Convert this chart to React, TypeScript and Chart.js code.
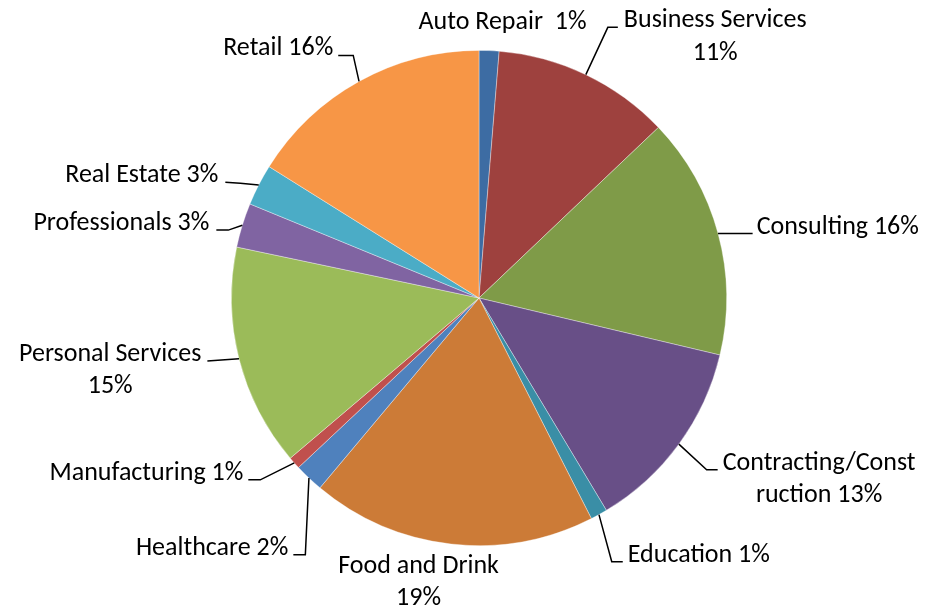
import React, { useEffect, useRef } from "react";
import { Chart, registerables } from "chart.js";

Chart.register(...registerables);

// ---- data ----
const categories = [
  "Auto Repair",
  "Business Services",
  "Consulting",
  "Contracting/Construction",
  "Education",
  "Food and Drink",
  "Healthcare",
  "Manufacturing",
  "Personal Services",
  "Professionals",
  "Real Estate",
  "Retail",
];
const shareValues = [1.3, 11.6, 15.8, 12.7, 1.1, 18.6, 1.9, 0.8, 14.5, 2.9, 2.7, 16.1];
const percentLabels = ["1%", "11%", "16%", "13%", "1%", "19%", "2%", "1%", "15%", "3%", "3%", "16%"];

// ---- styles ----
const sliceColors = [
  "#3D6CA3",
  "#9E413E",
  "#7F9B48",
  "#684F87",
  "#3A8EA6",
  "#CC7B37",
  "#4F81BD",
  "#C0504D",
  "#9BBB59",
  "#8064A2",
  "#4BACC6",
  "#F79646",
];

const FONT_SIZE = 26;
const FONT = `${FONT_SIZE}px Carlito, Lato, "Open Sans", sans-serif`;
const LINE_H = 32.5;

type LabelLayout = {
  sep: string;
  breakAt: number; // chars on first line, -1 = single line
  elbow: [number, number] | null; // relative to slice edge anchor
  end: [number, number] | null;
  text: [number, number];
  align: "left" | "right" | "center";
};

// label layout, offsets relative to the slice's outer mid-point
const labelLayout: LabelLayout[] = [
  { sep: "  ", breakAt: -1, elbow: null, end: null, text: [13.4, -21.2], align: "center" },
  { sep: " ", breakAt: 17, elbow: [22, -47.3], end: [32, -47.3], text: [38, -47.3], align: "left" },
  { sep: " ", breakAt: -1, elbow: null, end: [34.6, 0], text: [38.6, 0.7], align: "left" },
  { sep: " ", breakAt: 17, elbow: [27.8, 25.6], end: [38.8, 25.6], text: [43.8, 25.6], align: "left" },
  { sep: " ", breakAt: -1, elbow: [12.8, 47.1], end: [23.8, 47.1], text: [28.8, 47.1], align: "left" },
  { sep: " ", breakAt: 14, elbow: null, end: null, text: [-32.5, 28.6], align: "center" },
  { sep: " ", breakAt: -1, elbow: [-3.6, 76.8], end: [-15.6, 76.8], text: [-20.6, 76.8], align: "right" },
  { sep: " ", breakAt: -1, elbow: [-34, 16.9], end: [-46, 16.9], text: [-51, 16.9], align: "right" },
  { sep: " ", breakAt: 17, elbow: null, end: [-31.6, 2.1], text: [-37.6, 2.1], align: "right" },
  { sep: " ", breakAt: -1, elbow: [-14, 4.9], end: [-26, 4.9], text: [-33, 4.9], align: "right" },
  { sep: " ", breakAt: -1, elbow: [-18.4, -1.7], end: [-33.4, -2.7], text: [-40.4, -2.7], align: "right" },
  { sep: " ", breakAt: -1, elbow: [-5.8, -26], end: [-20.8, -26], text: [-25.8, -26], align: "right" },
];

const outsideLabels = {
  id: "outsideLabels",
  afterDatasetsDraw(chart: any) {
    const ctx: CanvasRenderingContext2D = chart.ctx;
    const meta = chart.getDatasetMeta(0);
    ctx.save();
    ctx.font = FONT;
    ctx.fillStyle = "#000000";
    ctx.strokeStyle = "#000000";
    ctx.lineWidth = 1.5;
    ctx.lineJoin = "miter";
    ctx.textBaseline = "alphabetic";
    meta.data.forEach((arc: any, i: number) => {
      const { x, y, startAngle, endAngle, outerRadius } = arc.getProps(
        ["x", "y", "startAngle", "endAngle", "outerRadius"],
        true
      );
      const mid = (startAngle + endAngle) / 2;
      const ax = x + Math.cos(mid) * outerRadius;
      const ay = y + Math.sin(mid) * outerRadius;
      const lay = labelLayout[i];
      // leader line
      if (lay.end) {
        ctx.beginPath();
        ctx.moveTo(ax, ay);
        if (lay.elbow) ctx.lineTo(ax + lay.elbow[0], ay + lay.elbow[1]);
        ctx.lineTo(ax + lay.end[0], ay + lay.end[1]);
        ctx.stroke();
      }
      // text
      const full = categories[i] + lay.sep + percentLabels[i];
      const lines =
        lay.breakAt > 0
          ? [full.slice(0, lay.breakAt).trim(), full.slice(lay.breakAt).trim()]
          : [full];
      const widths = lines.map((l) => ctx.measureText(l).width);
      const blockW = Math.max(...widths);
      const tx = ax + lay.text[0];
      const ty = ay + lay.text[1];
      let cxText: number;
      if (lay.align === "left") cxText = tx + blockW / 2;
      else if (lay.align === "right") cxText = tx - blockW / 2;
      else cxText = tx;
      ctx.textAlign = "center";
      lines.forEach((l, k) => {
        ctx.fillText(l, cxText, ty + k * LINE_H);
      });
    });
    ctx.restore();
  },
};

export default function App() {
  const canvasRef = useRef<HTMLCanvasElement | null>(null);

  useEffect(() => {
    document.body.style.margin = "0";
    const canvas = canvasRef.current;
    if (!canvas) return;
    const chart = new Chart(canvas, {
      type: "pie",
      data: {
        labels: categories,
        datasets: [
          {
            data: shareValues,
            backgroundColor: sliceColors,
            borderColor: "rgba(255,255,255,0.45)",
            borderWidth: 0.8,
          },
        ],
      },
      options: {
        responsive: false,
        animation: false,
        devicePixelRatio: 1,
        layout: { padding: { top: 50, bottom: 64, left: 231, right: 203 } },
        plugins: {
          legend: { display: false },
          tooltip: { enabled: false },
          title: { display: false },
        },
      },
      plugins: [outsideLabels],
    });
    return () => chart.destroy();
  }, []);

  return (
    <div style={{ width: 930, height: 610, background: "#ffffff" }}>
      <canvas ref={canvasRef} width={930} height={610} style={{ display: "block" }} />
    </div>
  );
}
